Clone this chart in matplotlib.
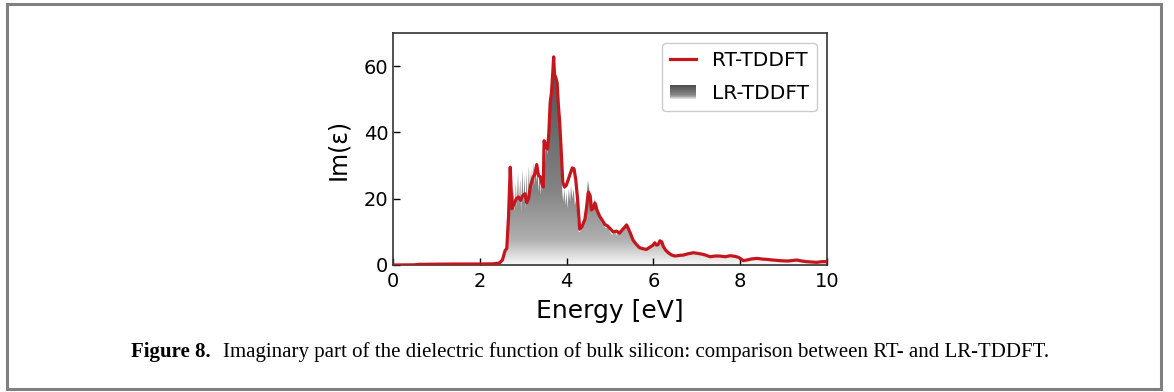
import numpy as np
import matplotlib.pyplot as plt
from matplotlib.colors import LinearSegmentedColormap
from matplotlib.patches import Polygon, Rectangle
from matplotlib.legend_handler import HandlerBase
from matplotlib.lines import Line2D

# RT-TDDFT spectrum (energy in eV, Im(eps))
energy_rt = [0.0, 0.5, 0.6, 1.0, 1.5, 2.0, 2.3, 2.45, 2.52, 2.58, 2.62, 2.66, 2.70,
             2.74, 2.79, 2.84, 2.89, 2.94, 2.99, 3.04, 3.08, 3.12, 3.17, 3.23, 3.27,
             3.31, 3.35, 3.39, 3.43, 3.46, 3.48, 3.52, 3.56, 3.59, 3.62, 3.65, 3.68,
             3.70, 3.72, 3.75, 3.78, 3.81, 3.84, 3.88, 3.91, 3.95, 3.99, 4.03, 4.08,
             4.13, 4.17, 4.21, 4.25, 4.30, 4.35, 4.42, 4.46, 4.50, 4.54, 4.57, 4.61,
             4.65, 4.70, 4.76, 4.82, 4.88, 4.94, 5.0, 5.07, 5.15, 5.22, 5.28, 5.33,
             5.38, 5.42, 5.47, 5.53, 5.60, 5.68, 5.76, 5.84, 5.92, 5.99, 6.03, 6.07,
             6.11, 6.15, 6.19, 6.23, 6.28, 6.35, 6.42, 6.5, 6.6, 6.69, 6.8, 6.92,
             7.02, 7.11, 7.2, 7.30, 7.42, 7.53, 7.65, 7.77, 7.88, 7.96, 8.02, 8.07,
             8.15, 8.25, 8.38, 8.5, 8.61, 8.75, 8.92, 9.1, 9.30, 9.42, 9.53, 9.65,
             9.76, 9.88, 10.0]
eps_rt = [0.0, 0.05, 0.2, 0.25, 0.3, 0.3, 0.35, 0.6, 1.5, 4.3, 5.0, 14.5, 29.5,
          17.0, 18.5, 20.0, 20.5, 19.5, 21.0, 21.5, 18.8, 20.0, 24.0, 26.6, 27.5,
          30.3, 27.0, 26.6, 24.5, 23.5, 37.5, 36.0, 35.0, 40.0, 49.0, 52.0, 58.0,
          62.8, 57.5, 56.5, 55.0, 48.0, 43.0, 33.0, 25.0, 23.5, 24.0, 25.5, 27.5,
          29.3, 29.0, 25.7, 20.0, 10.8, 11.5, 13.8, 17.5, 22.0, 21.0, 16.6, 17.0,
          18.7, 16.5, 14.7, 13.5, 12.2, 11.8, 11.0, 10.0, 10.2, 9.6, 10.6, 11.3,
          12.1, 11.0, 9.5, 7.5, 6.3, 5.2, 4.9, 4.7, 5.4, 6.0, 6.7, 6.0,
          6.2, 7.3, 7.0, 5.5, 4.5, 3.6, 3.0, 2.7, 2.9, 3.0, 3.4, 3.7,
          3.5, 3.3, 3.0, 2.5, 2.7, 2.7, 2.5, 2.8, 2.6, 2.3, 1.8, 1.3,
          1.5, 1.8, 2.0, 1.8, 1.7, 1.5, 1.3, 1.2, 1.5, 1.2, 1.0, 0.9,
          0.8, 1.0, 1.0]

# LR-TDDFT spectrum (denser, spikier sampling)
energy_lr = [0.0, 0.6, 2.0, 2.45, 2.55, 2.60, 2.65, 2.69, 2.72, 2.75, 2.78, 2.80,
             2.83, 2.85, 2.88, 2.90, 2.93, 2.95, 2.98, 3.00, 3.03, 3.05, 3.08, 3.10,
             3.13, 3.15, 3.18, 3.20, 3.23, 3.25, 3.28, 3.30, 3.33, 3.35, 3.38, 3.40,
             3.43, 3.45, 3.48, 3.50, 3.53, 3.55, 3.58, 3.60, 3.63, 3.66, 3.69, 3.72,
             3.75, 3.78, 3.80, 3.83, 3.86, 3.88, 3.90, 3.92, 3.95, 3.97, 4.00, 4.02,
             4.05, 4.08, 4.10, 4.13, 4.16, 4.19, 4.22, 4.25, 4.28, 4.31, 4.35, 4.39,
             4.43, 4.46, 4.49, 4.52, 4.55, 4.58, 4.61, 4.64, 4.67, 4.70, 4.73, 4.76,
             4.80, 4.85, 4.90, 4.95, 5.0, 5.05, 5.10, 5.15, 5.2, 5.27, 5.33, 5.38,
             5.42, 5.46, 5.52, 5.58, 5.64, 5.70, 5.77, 5.85, 5.92, 5.97, 6.02, 6.07,
             6.11, 6.15, 6.19, 6.23, 6.28, 6.35, 6.42, 6.5, 6.6, 6.69, 6.8, 6.92,
             7.02, 7.11, 7.2, 7.30, 7.42, 7.53, 7.65, 7.77, 7.88, 7.96, 8.02, 8.07,
             8.15, 8.25, 8.38, 8.5, 8.61, 8.75, 8.92, 9.1, 9.30, 9.42, 9.53, 9.65,
             9.76, 9.88, 10.0]
eps_lr = [0.0, 0.2, 0.3, 0.5, 2.0, 5.0, 14.0, 27.0, 18.0, 17.0, 23.0, 16.0,
          25.0, 17.0, 28.0, 18.0, 26.0, 16.0, 29.0, 19.0, 27.0, 17.0, 28.0, 18.0,
          30.0, 21.0, 29.0, 22.0, 31.0, 24.0, 30.0, 25.0, 29.0, 22.0, 28.0, 21.0,
          27.0, 22.0, 36.0, 30.0, 38.0, 33.0, 41.0, 44.0, 50.0, 55.0, 60.0, 61.5,
          57.0, 54.0, 47.0, 40.0, 33.0, 27.0, 22.0, 19.0, 23.0, 18.0, 22.0, 17.0,
          23.0, 19.0, 24.0, 20.0, 23.0, 18.0, 20.0, 14.0, 10.0, 10.0, 11.0, 13.0,
          16.0, 21.0, 25.5, 23.0, 19.0, 21.0, 16.0, 20.0, 18.0, 19.0, 15.0, 16.0,
          13.0, 12.0, 11.0, 11.5, 10.0, 9.0, 10.5, 9.0, 10.5, 10.0, 11.0, 12.0,
          10.5, 9.5, 8.0, 6.8, 6.0, 5.2, 4.8, 5.2, 5.4, 5.3, 6.5, 5.8,
          6.0, 7.0, 6.8, 5.3, 4.3, 3.5, 2.9, 2.6, 2.8, 2.9, 3.3, 3.6,
          3.4, 3.2, 2.9, 2.4, 2.6, 2.6, 2.4, 2.7, 2.5, 2.2, 1.7, 1.2,
          1.4, 1.7, 1.9, 1.7, 1.6, 1.4, 1.2, 1.1, 1.4, 1.1, 0.9, 0.8,
          0.7, 0.9, 0.9]

x_ticks = [0, 2, 4, 6, 8, 10]
y_ticks = [0, 20, 40, 60]

red = '#c4161c'
grey_map = LinearSegmentedColormap.from_list(
    'fill', [(0.0, '#f8f8f8'), (0.12, '#b0b0b0'), (0.35, '#858585'), (1.0, '#4c4c4c')])


class GradientHandler(HandlerBase):
    def create_artists(self, legend, orig_handle, xdescent, ydescent,
                       width, height, fontsize, trans):
        n = 24
        out = []
        for i in range(n):
            r = Rectangle((-xdescent, -ydescent + i * height / n), width, height / n,
                          facecolor=grey_map(i / (n - 1)), edgecolor='none',
                          transform=trans)
            out.append(r)
        return out


fig = plt.figure(figsize=(11.74, 3.92), dpi=100)
ax = fig.add_axes([0.3348, 0.324, 0.3697, 0.5918])

# gradient fill under the LR curve
verts = np.column_stack([np.r_[energy_lr[0], energy_lr, energy_lr[-1]],
                         np.r_[0, eps_lr, 0]])
clip = Polygon(verts, closed=True, facecolor='none', edgecolor='none')
ax.add_patch(clip)
grad = np.linspace(0, 1, 256).reshape(-1, 1)
im = ax.imshow(grad, extent=[0, 10, 0, 63], origin='lower', aspect='auto',
               cmap=grey_map, zorder=1)
im.set_clip_path(clip)

ax.plot(energy_rt, eps_rt, color=red, lw=2.3, zorder=3)

ax.set_xlim(0, 10)
ax.set_ylim(0, 70)
ax.set_xticks(x_ticks)
ax.set_yticks(y_ticks)
ax.tick_params(direction='in', length=5, width=1, labelsize=14)
ax.tick_params(axis='x', pad=5)
for s in ax.spines.values():
    s.set_linewidth(1.2)
    s.set_color('#333333')
ax.set_xlabel('Energy [eV]', fontsize=18, labelpad=6)
ax.set_ylabel('Im(ε)', fontsize=17, labelpad=10)

h_rt = Line2D([], [], color=red, lw=2.3)
h_lr = Rectangle((0, 0), 1, 1)
ax.legend([h_rt, h_lr], ['RT-TDDFT', 'LR-TDDFT'], loc='upper right',
          fontsize=14.5, handlelength=1.3, labelspacing=0.7,
          handler_map={Rectangle: GradientHandler()},
          borderaxespad=0.5, framealpha=1, edgecolor='#cccccc')

# page frame and caption
fig.add_artist(Rectangle((7 / 1174, 3 / 392), 1153.5 / 1174, 385.5 / 392,
                         transform=fig.transFigure, fill=False,
                         edgecolor='#808080', lw=2.2))
cap = fig.text(131 / 1174, 1 - 352 / 392, 'Figure 8.', fontsize=15,
               family='Liberation Serif', weight='bold', va='center')
ax.annotate('Imaginary part of the dielectric function of bulk silicon: '
            'comparison between RT- and LR-TDDFT.',
            xy=(1, 0.5), xycoords=cap, xytext=(9, 0), textcoords='offset points',
            fontsize=15, family='Liberation Serif', va='center',
            annotation_clip=False)

fig.savefig('out.png', dpi=100)
